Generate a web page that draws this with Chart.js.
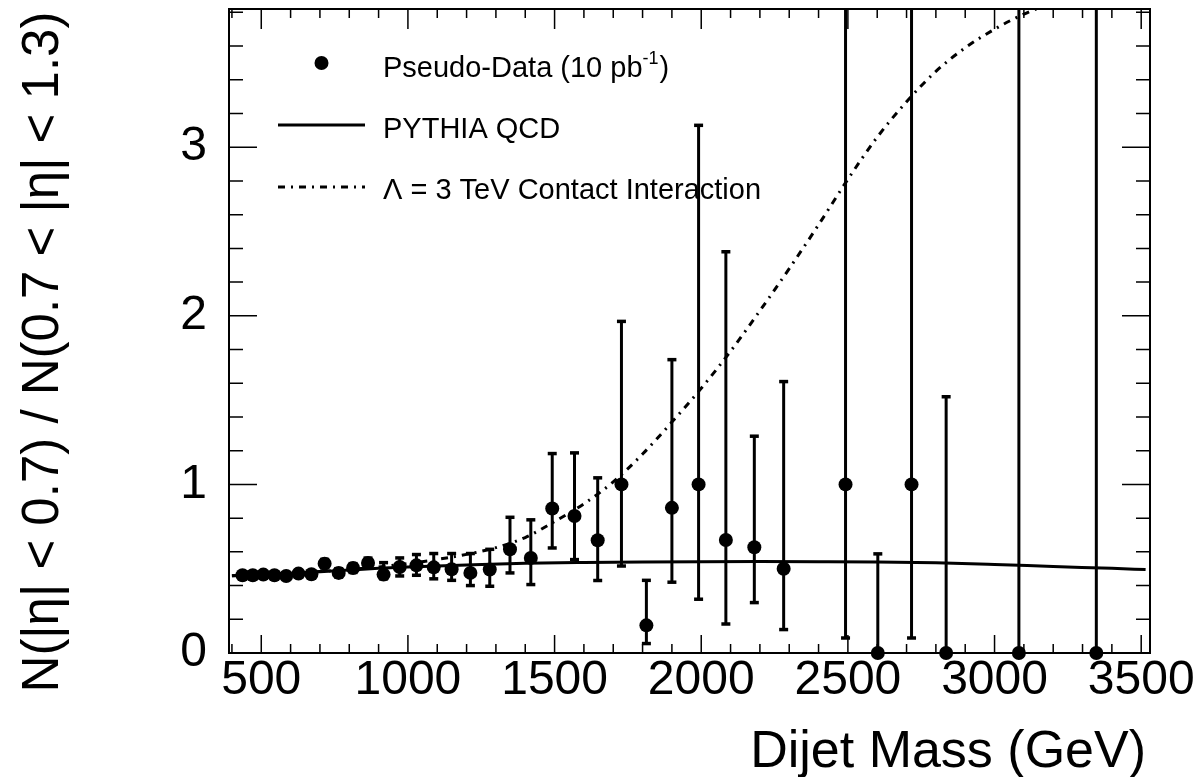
<!DOCTYPE html>
<html>
<head>
<meta charset="utf-8">
<script src="https://cdn.jsdelivr.net/npm/chart.js@4.4.1/dist/chart.umd.min.js"></script>
<style>
    html, body { margin: 0; padding: 0; background: #fff; }
    #wrap { width: 1200px; height: 777px; }
</style>
</head>
<body>
<div id="wrap"><canvas id="ratioChart" width="1200" height="777"></canvas></div>
<script>
// Pseudo-data: bin centres (GeV), ratio and error bar ends
const massBins = [436, 471, 507, 545, 585, 627, 671, 716, 764, 813, 864, 917, 972, 1029, 1088, 1149, 1213, 1279, 1348, 1419,
    1492, 1568, 1647, 1728, 1813, 1900, 1991, 2084, 2181, 2281, 2492, 2602, 2717, 2835, 3083, 3347];
const ratioData = [0.461, 0.461, 0.465, 0.461, 0.457, 0.471, 0.467, 0.530, 0.475, 0.504, 0.534, 0.465, 0.510, 0.520, 0.508, 0.497, 0.475, 0.495, 0.615, 0.564,
    0.857, 0.813, 0.669, 1.0, 0.164, 0.861, 1.0, 0.670, 0.627, 0.500, 1.0, 0, 1.0, 0, 0, 0];
const errLow = [0.445, 0.445, 0.448, 0.444, 0.440, 0.452, 0.447, 0.505, 0.450, 0.478, 0.505, 0.440, 0.457, 0.461, 0.440, 0.431, 0.400, 0.396, 0.475, 0.406,
    0.623, 0.554, 0.430, 0.516, 0.056, 0.420, 0.319, 0.172, 0.299, 0.139, 0.089, 0, 0.089, 0, 0, 0];
const errHigh = [0.478, 0.478, 0.482, 0.478, 0.475, 0.490, 0.487, 0.555, 0.500, 0.530, 0.563, 0.536, 0.564, 0.584, 0.590, 0.590, 0.590, 0.615, 0.805, 0.790,
    1.183, 1.187, 1.039, 1.967, 0.431, 1.740, 3.130, 2.380, 1.286, 1.610, 4.6, 0.588, 4.6, 1.520, 4.6, 4.6];

// PYTHIA QCD prediction
const qcdMass = [400, 500, 600, 700, 800, 900, 1000, 1200, 1400, 1600, 1800, 2000, 2200, 2400, 2600, 2800, 3000, 3200, 3400, 3515];
const qcdRatio = [0.458, 0.465, 0.472, 0.482, 0.492, 0.502, 0.510, 0.522, 0.532, 0.537, 0.540, 0.542, 0.543, 0.542, 0.540, 0.535, 0.525, 0.513, 0.502, 0.495];

// Lambda = 3 TeV contact interaction
const ciMass = [400, 600, 800, 1000, 1100, 1200, 1300, 1400, 1500, 1600, 1700, 1800, 1900, 2000, 2100, 2200, 2300, 2400, 2500, 2600, 2700, 2800, 2900, 3000, 3100, 3200];
const ciRatio = [0.458, 0.474, 0.495, 0.530, 0.555, 0.585, 0.625, 0.685, 0.780, 0.885, 1.015, 1.180, 1.370, 1.570, 1.790, 2.030, 2.280, 2.540, 2.810, 3.060, 3.270, 3.450, 3.590, 3.700, 3.790, 3.860];

// Axis ticks and labels
const xLabels = [500, 1000, 1500, 2000, 2500, 3000, 3500];
const yLabels = [0, 1, 2, 3];
const xRange = [390, 3530];
const yRange = [0, 3.82];

const FONT = '"Liberation Sans", Arial, Helvetica, sans-serif';

const rootPlot = {
    id: 'rootPlot',

    beforeDatasetsDraw: (chart) => {
        const { ctx, chartArea: a, scales: { x, y } } = chart;
        ctx.save();
        ctx.beginPath();
        ctx.rect(a.left, a.top, a.right - a.left, a.bottom - a.top);
        ctx.clip();
        ctx.strokeStyle = '#000';
        massBins.forEach((m, i) => {
            const px = x.getPixelForValue(m);
            const yl = y.getPixelForValue(errLow[i]);
            const yh = y.getPixelForValue(errHigh[i]);
            ctx.lineWidth = 3;
            ctx.beginPath();
            ctx.moveTo(px, yl);
            ctx.lineTo(px, yh);
            ctx.stroke();
            ctx.lineWidth = 3.5;
            [yl, yh].forEach(py => {
                if (py > a.top + 1 && py < a.bottom - 1) {
                    ctx.beginPath();
                    ctx.moveTo(px - 4.5, py);
                    ctx.lineTo(px + 4.5, py);
                    ctx.stroke();
                }
            });
        });
        ctx.restore();
    },

    afterDraw: (chart) => {
        const { ctx, chartArea: a, scales: { x, y } } = chart;
        ctx.save();
        ctx.strokeStyle = '#000';
        ctx.fillStyle = '#000';

        // frame
        ctx.lineWidth = 2;
        ctx.strokeRect(a.left, a.top, a.right - a.left, a.bottom - a.top);

        // ticks on all four sides, pointing inward
        ctx.lineWidth = 1.5;
        for (let m = 400; m <= 3500; m += 100) {
            const px = x.getPixelForValue(m);
            const major = m % 500 === 0;
            ctx.beginPath();
            ctx.moveTo(px, a.bottom);
            ctx.lineTo(px, a.bottom - (major ? 18 : 9));
            ctx.moveTo(px, a.top);
            ctx.lineTo(px, a.top + (major ? 20 : 9));
            ctx.stroke();
        }
        for (let k = 1; k * 0.2 < yRange[1]; k++) {
            const py = y.getPixelForValue(k * 0.2);
            const len = k % 5 === 0 ? 28 : 14;
            ctx.beginPath();
            ctx.moveTo(a.left, py);
            ctx.lineTo(a.left + len, py);
            ctx.moveTo(a.right, py);
            ctx.lineTo(a.right - len, py);
            ctx.stroke();
        }

        // legend
        const lx = a.left + 49, lx2 = a.left + 136, tx = a.left + 154;
        ctx.beginPath();
        ctx.arc((lx + lx2) / 2, a.top + 54, 7, 0, Math.PI * 2);
        ctx.fill();
        ctx.lineWidth = 3;
        ctx.beginPath();
        ctx.moveTo(lx, a.top + 116);
        ctx.lineTo(lx2, a.top + 116);
        ctx.stroke();
        ctx.setLineDash([7, 6, 2, 6]);
        ctx.beginPath();
        ctx.moveTo(lx, a.top + 178);
        ctx.lineTo(lx2, a.top + 178);
        ctx.stroke();
        ctx.setLineDash([]);

        ctx.textAlign = 'left';
        ctx.textBaseline = 'alphabetic';
        ctx.font = `29px ${FONT}`;
        const t1 = 'Pseudo-Data (10 pb';
        ctx.fillText(t1, tx, a.top + 68);
        let w = ctx.measureText(t1).width;
        ctx.font = `18px ${FONT}`;
        ctx.fillText('-1', tx + w, a.top + 55);
        w += ctx.measureText('-1').width;
        ctx.font = `29px ${FONT}`;
        ctx.fillText(')', tx + w + 1, a.top + 68);
        ctx.fillText('PYTHIA QCD', tx, a.top + 129);
        ctx.fillText('\u039B = 3 TeV Contact Interaction', tx, a.top + 190);

        // axis titles
        ctx.font = `52px ${FONT}`;
        ctx.textAlign = 'right';
        ctx.fillText('Dijet Mass (GeV)', a.right - 4, 767);

        ctx.translate(58, 352);
        ctx.rotate(-Math.PI / 2);
        ctx.textAlign = 'center';
        ctx.font = `51px ${FONT}`;
        ctx.fillText('N(|\u03B7| < 0.7) / N(0.7 < |\u03B7| < 1.3)', 0, 0);
        ctx.restore();
    }
};

const ctx = document.getElementById('ratioChart').getContext('2d');

new Chart(ctx, {
    type: 'scatter',
    data: {
        datasets: [
            {
                label: 'Pseudo-Data (10 pb-1)',
                data: massBins.map((m, i) => ({ x: m, y: ratioData[i] })),
                pointRadius: 7,
                pointBackgroundColor: '#000',
                pointBorderWidth: 0,
                showLine: false,
                clip: false,
                order: 0
            },
            {
                label: 'PYTHIA QCD',
                data: qcdMass.map((m, i) => ({ x: m, y: qcdRatio[i] })),
                showLine: true,
                pointRadius: 0,
                borderColor: '#000',
                borderWidth: 3,
                cubicInterpolationMode: 'monotone',
                order: 1
            },
            {
                label: 'Contact Interaction',
                data: ciMass.map((m, i) => ({ x: m, y: ciRatio[i] })),
                showLine: true,
                pointRadius: 0,
                borderColor: '#000',
                borderWidth: 3,
                borderDash: [7, 6, 2, 6],
                cubicInterpolationMode: 'monotone',
                order: 2
            }
        ]
    },
    options: {
        responsive: false,
        animation: false,
        events: [],
        layout: { padding: { top: 9, right: 50, left: 0, bottom: 0 } },
        plugins: { legend: { display: false }, tooltip: { enabled: false } },
        scales: {
            x: {
                type: 'linear',
                min: xRange[0],
                max: xRange[1],
                grid: { display: false, drawTicks: false },
                border: { display: false },
                afterBuildTicks: (s) => { s.ticks = xLabels.map(v => ({ value: v })); },
                afterFit: (s) => { s.height = 124; s.paddingLeft = 0; s.paddingRight = 0; },
                ticks: {
                    autoSkip: false,
                    maxRotation: 0,
                    padding: 4,
                    color: '#000',
                    font: { family: FONT, size: 48, lineHeight: 1 },
                    callback: (v) => String(v)
                }
            },
            y: {
                type: 'linear',
                min: yRange[0],
                max: yRange[1],
                grid: { display: false, drawTicks: false },
                border: { display: false },
                afterBuildTicks: (s) => { s.ticks = yLabels.map(v => ({ value: v })); },
                afterFit: (s) => { s.width = 229; s.paddingTop = 0; s.paddingBottom = 0; },
                ticks: {
                    autoSkip: false,
                    padding: 22,
                    color: '#000',
                    font: { family: FONT, size: 48, lineHeight: 1 },
                    callback: (v) => String(v)
                }
            }
        }
    },
    plugins: [rootPlot]
});
</script>
</body>
</html>
